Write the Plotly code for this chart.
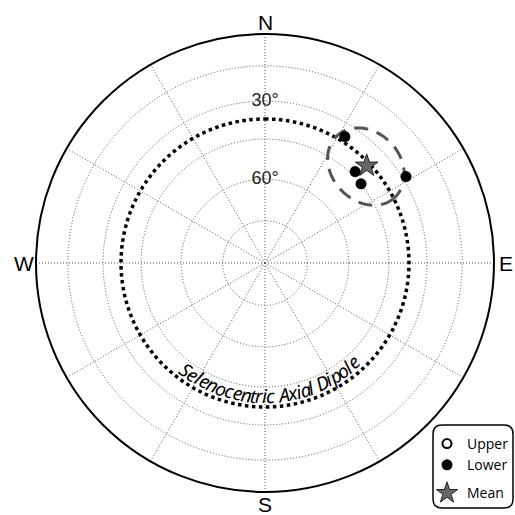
import numpy as np
import plotly.graph_objects as go

# ---------------- data ----------------
lower_dec = [32.3, 44.6, 50.5, 58.5]
lower_inc = [35.0, 43.3, 44.8, 28.6]
upper_dec = []
upper_inc = []
mean_dec = [46.3]
mean_inc = [38.5]
alpha95 = 13.5
sad_inc = 37.2
grid_incs = [75, 60, 45, 30, 15]
label_incs = [30, 60]
label_texts = ["30°", "60°"]
grid_decs = list(range(0, 360, 30))
compass_decs = [0, 90, 180, 270]
compass_labels = ["N", "E", "S", "W"]
sad_text = "Selenocentric Axial Dipole"


def proj(inc):
    """Equal-area (Schmidt) radial position, 0 at centre, 1 at horizon."""
    inc = np.abs(np.asarray(inc, dtype=float))
    return np.sqrt(2) * np.sin(np.radians(90 - inc) / 2)


def small_circle(dec, inc, a95, n=181):
    d, i = np.radians(dec), np.radians(inc)
    m = np.array([np.cos(i) * np.cos(d), np.cos(i) * np.sin(d), np.sin(i)])
    u = np.array([-np.sin(d), np.cos(d), 0.0])
    v = np.cross(m, u)
    a = np.radians(a95)
    phi = np.linspace(0, 2 * np.pi, n)
    pts = (np.cos(a) * m[:, None] + np.sin(a) * (np.cos(phi) * u[:, None] + np.sin(phi) * v[:, None]))
    decs = np.degrees(np.arctan2(pts[1], pts[0])) % 360
    incs = np.degrees(np.arcsin(np.clip(pts[2], -1, 1)))
    return decs, incs


W = H = 515
fig = go.Figure()

# SAD circle
theta_full = np.linspace(0, 360, 361)
fig.add_trace(go.Scatterpolar(
    r=np.full_like(theta_full, proj(sad_inc)), theta=theta_full, mode="lines",
    line=dict(color="black", width=3.5, dash="dot"), showlegend=False, hoverinfo="skip"))

# alpha95 circle
cd, ci = small_circle(mean_dec[0], mean_inc[0], alpha95)
fig.add_trace(go.Scatterpolar(
    r=proj(ci), theta=cd, mode="lines",
    line=dict(color="#555555", width=3, dash="14px,9px"), showlegend=False, hoverinfo="skip"))

# inclination labels
fig.add_trace(go.Scatterpolar(
    r=proj(label_incs), theta=[0, 0], mode="text", text=label_texts,
    textposition="middle center",
    textfont=dict(family="Liberation Sans, Arial", size=18, color="#222222"),
    showlegend=False, hoverinfo="skip"))

# Upper (none in data)
fig.add_trace(go.Scatterpolar(
    r=list(proj(upper_inc)) if upper_inc else [None], theta=upper_dec if upper_dec else [None],
    mode="markers", name="Upper", legendgroup="a",
    marker=dict(symbol="circle-open", size=9, color="black", line=dict(width=2, color="black"))))

# Lower
fig.add_trace(go.Scatterpolar(
    r=proj(lower_inc), theta=lower_dec, mode="markers", name="Lower", legendgroup="a",
    marker=dict(symbol="circle", size=11, color="black")))

# Mean
fig.add_trace(go.Scatterpolar(
    r=proj(mean_inc), theta=mean_dec, mode="markers", name="Mean", legendgroup="b",
    marker=dict(symbol="star", size=17, color="#666666", line=dict(width=1, color="#222222"))))

# ---------- layout ----------
cx, cy, R = 265, 263, 229
grid_style = dict(gridcolor="#555555", griddash="1px,2px", gridwidth=1)
fig.update_layout(
    width=W, height=H, margin=dict(l=0, r=0, t=0, b=0),
    paper_bgcolor="white", plot_bgcolor="white",
    polar=dict(
        domain=dict(x=[(cx - R) / W, (cx + R) / W], y=[1 - (cy + R) / H, 1 - (cy - R) / H]),
        bgcolor="white",
        radialaxis=dict(range=[0, 1], tickmode="array", tickvals=list(proj(grid_incs)),
                        showticklabels=False, ticks="", showline=False, angle=90, **grid_style),
        angularaxis=dict(rotation=90, direction="clockwise", tickmode="array",
                         tickvals=grid_decs, showticklabels=False, ticks="",
                         showline=True, linecolor="black", linewidth=2,
                         **grid_style),
    ),
    legend=dict(x=427 / W, y=1 - 428 / H, xanchor="left", yanchor="top",
                bgcolor="rgba(0,0,0,0)", borderwidth=0, tracegroupgap=7,
                font=dict(family="Open Sans", size=14, color="black")),
    showlegend=True,
)

# compass labels just outside the primitive circle
lab_r = 1.053 * R
for d, lab in zip(compass_decs, compass_labels):
    px = cx + lab_r * np.sin(np.radians(d))
    py = cy - lab_r * np.cos(np.radians(d))
    fig.add_annotation(x=px / W, y=1 - py / H, xref="paper", yref="paper", text=lab,
                       showarrow=False, xanchor="center", yanchor="middle",
                       height=18, valign="middle",
                       font=dict(family="Liberation Sans, Arial", size=21, color="black"))

# rounded legend box
x0, x1 = 433 / W, 513 / W
yt, yb = 1 - 425 / H, 1 - 508 / H
rr = 9 / W
path = (f"M {x0+rr},{yt} L {x1-rr},{yt} Q {x1},{yt} {x1},{yt-rr} L {x1},{yb+rr} "
        f"Q {x1},{yb} {x1-rr},{yb} L {x0+rr},{yb} Q {x0},{yb} {x0},{yb+rr} "
        f"L {x0},{yt-rr} Q {x0},{yt} {x0+rr},{yt} Z")
fig.add_shape(type="path", path=path, xref="paper", yref="paper",
              line=dict(color="black", width=1.5), fillcolor="rgba(0,0,0,0)")

# curved SAD label
widths = {"S": .52, "e": .52, "l": .25, "n": .55, "o": .55, "c": .45, "t": .33, "r": .36,
          "i": .25, " ": .25, "A": .6, "x": .48, "a": .52, "D": .66, "p": .55}
ws = np.array([widths.get(ch, .5) for ch in sad_text])
cum = np.cumsum(ws) - ws / 2
t0, t1 = -38.5, 43.5
tr = 133
for ch, s in zip(sad_text, cum):
    if ch == " ":
        continue
    t = t0 + (s / ws.sum()) * (t1 - t0)
    px = cx + tr * np.sin(np.radians(t))
    py = cy + tr * np.cos(np.radians(t))
    fig.add_annotation(x=px / W, y=1 - py / H, xref="paper", yref="paper", text=ch,
                       showarrow=False, textangle=-t, xanchor="center", yanchor="middle",
                       font=dict(family="Noto Sans", size=19, color="black", style="italic"))

fig.write_html("out.html", config={"displayModeBar": False},
               post_script="document.body.style.margin='0';")
